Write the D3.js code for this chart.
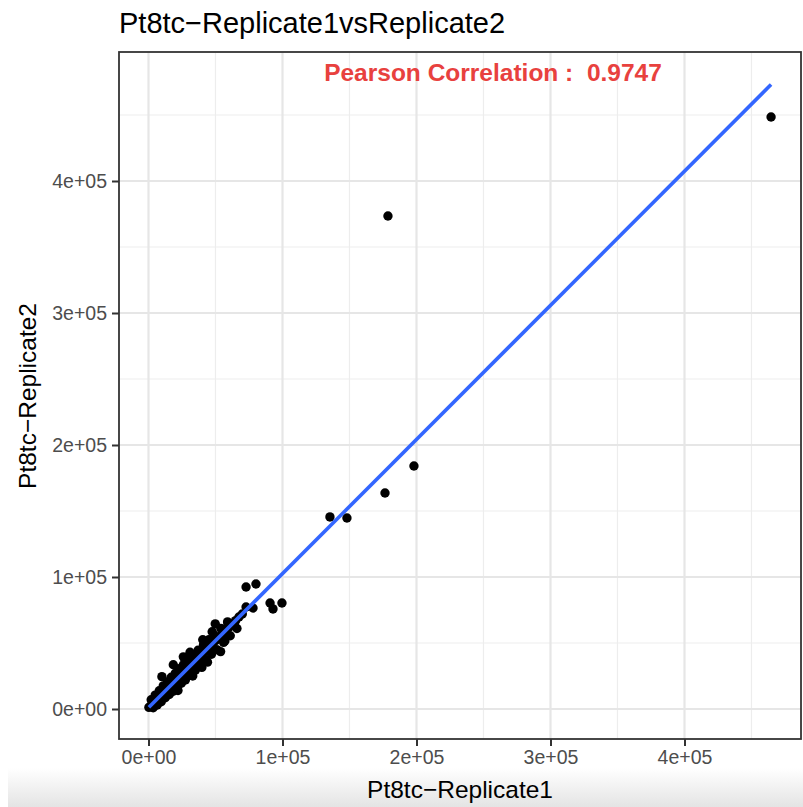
<!DOCTYPE html>
<html>
<head>
<meta charset="utf-8">
<script src="https://cdn.jsdelivr.net/npm/d3@7"></script>
<style>
  html, body { margin: 0; padding: 0; background: #ffffff; }
  svg { display: block; }
  text { font-family: "Liberation Sans", Arial, Helvetica, sans-serif; }
</style>
</head>
<body>
<div id="chart"></div>
<script>
// ---------------- data ----------------
const titleText = "Pt8tc\u2212Replicate1vsReplicate2";
const xLabel = "Pt8tc\u2212Replicate1";
const yLabel = "Pt8tc\u2212Replicate2";
const corrLabel = "Pearson Correlation :  0.9747";

const xTicks = [0, 100000, 200000, 300000, 400000];
const yTicks = [0, 100000, 200000, 300000, 400000];
const xTickLabels = ["0e+00", "1e+05", "2e+05", "3e+05", "4e+05"];
const yTickLabels = ["0e+00", "1e+05", "2e+05", "3e+05", "4e+05"];
const xMinor = [50000, 150000, 250000, 350000, 450000];
const yMinor = [50000, 150000, 250000, 350000, 450000];

// Replicate1 (x) and Replicate2 (y) values
const rep1 = [
  // dense band along the diagonal
  300, 1500, 3000, 4500, 6000, 7500, 9000, 10500, 12000, 13500, 15000, 16500, 18000, 19500,
  21000, 22500, 24000, 25500, 27000, 28500, 30000, 32000, 34000, 36000, 38000, 40000, 42000,
  44000, 46000, 48000, 50000, 52500, 55000, 57500, 60000, 62500, 65000, 67500, 70000,
  // slightly above the diagonal
  2000, 5000, 8000, 11000, 14000, 17000, 20000, 23000, 26000, 29000, 33000, 37000, 41000,
  45000, 49000, 54000, 59000,
  // slightly below the diagonal
  3500, 6500, 9500, 12500, 15500, 18500, 21500, 24500, 27500, 31000, 35000, 39000, 43000,
  47000, 51000, 56000, 61000, 66000,
  // spurs
  10000, 18500, 26000, 31000, 40500, 47500, 49800,
  22000, 33000, 39800, 44000, 53800, 57000,
  // upper end of the cluster
  59300, 64000, 72800, 78000, 72800, 80200, 90700, 92900, 99600,
  // large genes
  135400, 148100, 176500, 198100, 178700, 464600
];
const rep2 = [
  1200, 2300, 4200, 5400, 7300, 8500, 10400, 11500, 13400, 14500, 16500, 17600, 19500, 20700,
  22500, 23800, 25500, 26900, 28500, 30100, 31500, 33700, 35400, 37800, 39400, 41900, 43500,
  46000, 47600, 50000, 51800, 54400, 56700, 59600, 61800, 64500, 66900, 69700, 72000,
  7000, 10500, 13800, 17500, 20500, 24000, 27000, 30500, 33500, 36500, 40000, 44500, 48500,
  52500, 56000, 61000, 66000,
  1000, 3000, 5500, 8500, 11000, 13500, 16500, 19500, 22000, 25500, 29500, 33500, 37000,
  41500, 45000, 50500, 55500, 61000,
  24500, 33500, 39500, 43000, 52500, 58500, 64500,
  14000, 25000, 31500, 35500, 43500, 51500,
  63600, 64000, 77300, 76500, 92400, 94700, 80300, 75800, 80300,
  145500, 144700, 163600, 184100, 373500, 448500
];

// linear fit (geom_smooth, method = "lm")
const fitSlope = 1.016;
const fitIntercept = 1000;

// ---------------- layout ----------------
const W = 803, H = 807;
const panel = { left: 119, top: 52, right: 801, bottom: 739 };
const x0px = 148.5, xPer1e5 = 134;   // pixel of x = 0, pixels per 1e5
const y0px = 709, yPer1e5 = 132;     // pixel of y = 0, pixels per 1e5

const x = d3.scaleLinear()
  .domain([-(x0px - panel.left) / xPer1e5 * 1e5, (panel.right - x0px) / xPer1e5 * 1e5])
  .range([panel.left, panel.right]);
const y = d3.scaleLinear()
  .domain([-(panel.bottom - y0px) / yPer1e5 * 1e5, (y0px - panel.top) / yPer1e5 * 1e5])
  .range([panel.bottom, panel.top]);

const svg = d3.select("#chart").append("svg")
  .attr("width", W).attr("height", H);

// background + bottom gray band of the screenshot
const defs = svg.append("defs");
const grad = defs.append("linearGradient").attr("id", "bottomBand")
  .attr("x1", 0).attr("y1", 0).attr("x2", 0).attr("y2", 1);
grad.append("stop").attr("offset", "0%").attr("stop-color", "#ffffff");
grad.append("stop").attr("offset", "100%").attr("stop-color", "#e4e4e4");
defs.append("clipPath").attr("id", "panelClip").append("rect")
  .attr("x", panel.left).attr("y", panel.top)
  .attr("width", panel.right - panel.left).attr("height", panel.bottom - panel.top);

svg.append("rect").attr("width", W).attr("height", H).attr("fill", "#ffffff");
svg.append("rect").attr("x", 8).attr("y", 768).attr("width", W - 8).attr("height", H - 768)
  .attr("fill", "url(#bottomBand)");

// panel background
svg.append("rect")
  .attr("x", panel.left).attr("y", panel.top)
  .attr("width", panel.right - panel.left).attr("height", panel.bottom - panel.top)
  .attr("fill", "#ffffff");

const grid = svg.append("g").attr("clip-path", "url(#panelClip)");
// minor grid
grid.selectAll("line.vmin").data(xMinor).join("line")
  .attr("x1", d => x(d)).attr("x2", d => x(d))
  .attr("y1", panel.top).attr("y2", panel.bottom)
  .attr("stroke", "#ededed").attr("stroke-width", 1.2);
grid.selectAll("line.hmin").data(yMinor).join("line")
  .attr("y1", d => y(d)).attr("y2", d => y(d))
  .attr("x1", panel.left).attr("x2", panel.right)
  .attr("stroke", "#ededed").attr("stroke-width", 1.2);
// major grid
grid.selectAll("line.vmaj").data(xTicks).join("line")
  .attr("x1", d => x(d)).attr("x2", d => x(d))
  .attr("y1", panel.top).attr("y2", panel.bottom)
  .attr("stroke", "#e6e6e6").attr("stroke-width", 2.2);
grid.selectAll("line.hmaj").data(yTicks).join("line")
  .attr("y1", d => y(d)).attr("y2", d => y(d))
  .attr("x1", panel.left).attr("x2", panel.right)
  .attr("stroke", "#e6e6e6").attr("stroke-width", 2.2);

// points
const pts = d3.zip(rep1, rep2);
const plot = svg.append("g").attr("clip-path", "url(#panelClip)");
plot.selectAll("circle").data(pts).join("circle")
  .attr("cx", d => x(d[0])).attr("cy", d => y(d[1]))
  .attr("r", 4.7).attr("fill", "#000000");

// fit line
const xExt = d3.extent(rep1);
const fitData = xExt.map(v => [v, fitIntercept + fitSlope * v]);
plot.append("path").datum(fitData)
  .attr("d", d3.line().x(d => x(d[0])).y(d => y(d[1])))
  .attr("fill", "none").attr("stroke", "#3366ff").attr("stroke-width", 3.6)
  .attr("stroke-linecap", "butt");

// panel border
svg.append("rect")
  .attr("x", panel.left).attr("y", panel.top)
  .attr("width", panel.right - panel.left).attr("height", panel.bottom - panel.top)
  .attr("fill", "none").attr("stroke", "#333333").attr("stroke-width", 1.8);

// axes
const xAxis = d3.axisBottom(x).tickValues(xTicks)
  .tickFormat((d, i) => xTickLabels[i]).tickSize(7).tickPadding(4);
const gx = svg.append("g").attr("transform", `translate(0,${panel.bottom})`).call(xAxis);
gx.select(".domain").remove();
gx.selectAll(".tick line").attr("stroke", "#333333").attr("stroke-width", 2);
gx.selectAll(".tick text").attr("fill", "#4d4d4d").attr("font-size", 19.5)
  .attr("font-family", "'Liberation Sans', Arial, sans-serif");

const yAxis = d3.axisLeft(y).tickValues(yTicks)
  .tickFormat((d, i) => yTickLabels[i]).tickSize(7).tickPadding(5);
const gy = svg.append("g").attr("transform", `translate(${panel.left},0)`).call(yAxis);
gy.select(".domain").remove();
gy.selectAll(".tick line").attr("stroke", "#333333").attr("stroke-width", 2);
gy.selectAll(".tick text").attr("fill", "#4d4d4d").attr("font-size", 19.5)
  .attr("font-family", "'Liberation Sans', Arial, sans-serif");

// title and labels
svg.append("text").attr("x", 119).attr("y", 33)
  .attr("font-size", 29).attr("fill", "#000000").text(titleText);

svg.append("text").attr("x", 460).attr("y", 798)
  .attr("text-anchor", "middle").attr("font-size", 24.5).attr("fill", "#000000").text(xLabel);

svg.append("text").attr("transform", "translate(36,396) rotate(-90)")
  .attr("text-anchor", "middle").attr("font-size", 24.5).attr("fill", "#000000").text(yLabel);

svg.append("text").attr("x", 493).attr("y", 81)
  .attr("text-anchor", "middle").attr("font-size", 24.5).attr("font-weight", "bold")
  .style("white-space", "pre")
  .attr("fill", "#e8413e").text(corrLabel);
</script>
</body>
</html>
